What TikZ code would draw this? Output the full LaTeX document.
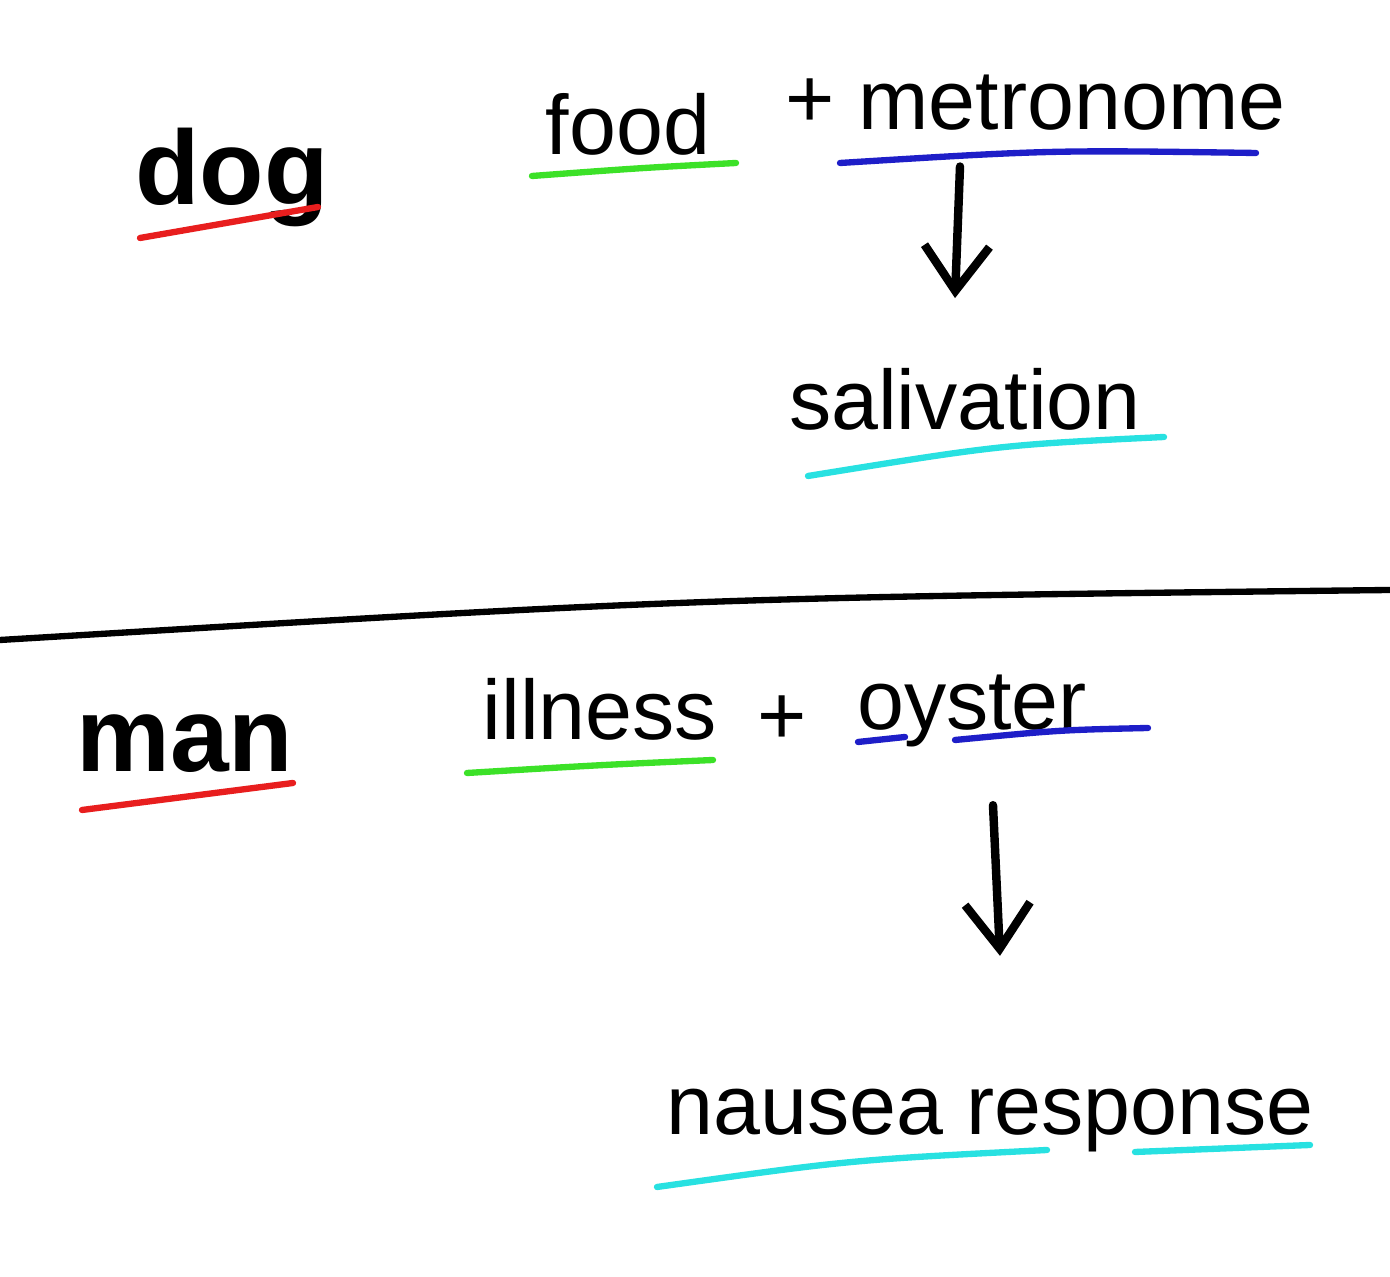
\documentclass[tikz,border=0pt]{standalone}
\usepackage{fontspec}
\setmainfont{Liberation Sans}
\usepackage{xcolor}
\usetikzlibrary{arrows.meta,calc,positioning}
\definecolor{subjred}{RGB}{232,30,30}
\definecolor{usgreen}{RGB}{60,225,40}
\definecolor{csblue}{RGB}{30,30,200}
\definecolor{respcyan}{RGB}{40,225,225}
\tikzset{
  word/.style={font=\fontsize{24}{28}\selectfont,anchor=base,inner sep=0pt},
  bigword/.style={word,font=\fontsize{30}{34}\selectfont\bfseries},
  uline/.style={line width=1.8pt,line cap=round,draw=#1},
  pen/.style={line width=2.4pt,line cap=round,line join=round},
}
\begin{document}
\begin{tikzpicture}[x=0.01cm,y=-0.01cm,>={Straight Barb[length=4.5mm,width=6.5mm]}]
\useasboundingbox[fill=white] (0,0) rectangle (1390,1277);
% top half: the dog
\node[bigword] (dog) at (232,205) {dog};
\node[word] (food) at (628,155) {food};
\node[word] (plusA) at (810,128) {+};
\node[word] (metronome) at (1072,130) {metronome};
\node[word] (salivation) at (965,430) {salivation};
\draw[uline=subjred] (140,238) -- (318,207);
\draw[uline=usgreen] (532,176) .. controls (640,168) .. (736,163);
\draw[uline=csblue] (840,163) .. controls (1050,150) .. (1256,153);
\draw[uline=respcyan] (808,476) .. controls (1000,445) .. (1164,437);
\draw[pen,->] ($(salivation.north |- metronome.south)+(-5,35)$) -- ($(salivation.north)+(-10,-70)$);
% divider
\draw[line width=1.8pt] (0,640) .. controls (700,598) .. (1390,590);
% bottom half: the man
\node[bigword] (man) at (185,772) {man};
\node[word] (illness) at (600,740) {illness};
\node[word] (plusB) at (782,745) {+};
\node[word] (oyster) at (972,730) {oyster};
\node[word] (nausea) at (990,1135) {nausea response};
\draw[uline=subjred] (82,810) -- (293,783);
\draw[uline=usgreen] (467,773) .. controls (600,765) .. (713,760);
\draw[uline=csblue] (858,742) -- (905,737);
\draw[uline=csblue] (955,740) .. controls (1060,730) .. (1148,728);
\draw[uline=respcyan] (657,1187) .. controls (850,1160) .. (1047,1150);
\draw[uline=respcyan] (1135,1152) -- (1310,1145);
\draw[pen,->] ($(oyster.south)+(21,57)$) -- ($(nausea.north)+(10,-133)$);
\end{tikzpicture}
\end{document}
